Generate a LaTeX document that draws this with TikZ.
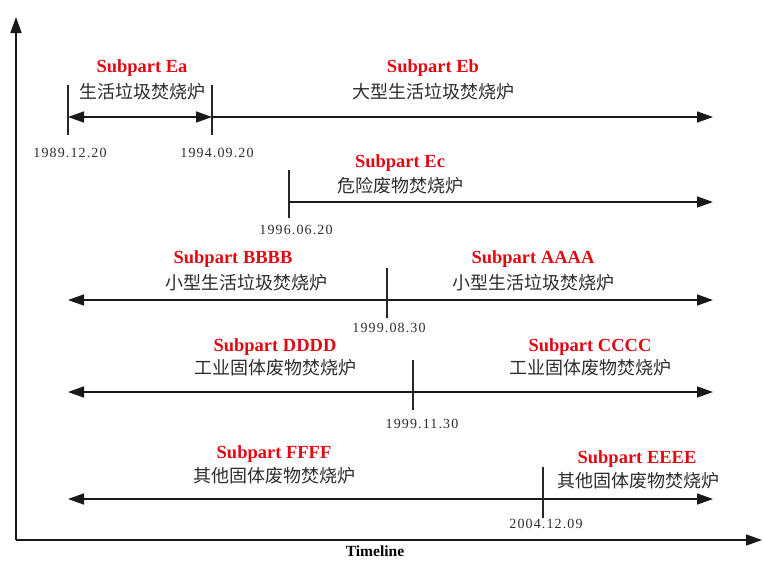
\documentclass[tikz,border=0pt]{standalone}
\usepackage{fontspec}
\setmainfont{Liberation Serif}
\newfontfamily\cjk{Noto Sans CJK SC}
\newfontfamily\datefont[LetterSpace=8]{Liberation Serif}
\usetikzlibrary{arrows.meta}
\definecolor{subred}{RGB}{225,10,20}
\definecolor{txtgray}{RGB}{45,45,45}
\begin{document}
\begin{tikzpicture}[x=1pt,y=-1pt,
  sub/.style={text=subred, font=\bfseries\fontsize{18.5}{18.5}\selectfont, inner sep=0pt},
  cn/.style={text=txtgray, font=\cjk\fontsize{18}{18}\selectfont, inner sep=0pt},
  datelbl/.style={text=txtgray, font=\datefont\fontsize{14}{14}\selectfont, inner sep=0pt},
  tl/.style={line width=1.5pt, draw=black!90},
  tick/.style={line width=1.2pt, draw=black!85},
  arr/.style={tl, -{Triangle[length=16pt,width=11pt]}},
  darr/.style={tl, {Triangle[length=16pt,width=11pt]}-{Triangle[length=16pt,width=11pt]}}]
\useasboundingbox (0,0) rectangle (762,560);
% axes
\coordinate (o) at (16,540);
\coordinate (ytop) at (16,17);
\coordinate (xend) at (762,540);
\draw[arr] (o) -- (ytop);
\draw[arr] (o) -- (xend);
\node[font=\bfseries\fontsize{15.5}{15.5}\selectfont, inner sep=0pt] (tlab) at (375,551) {Timeline};
% row 1
\coordinate (a1t) at (68,85); \coordinate (a1b) at (68,135);
\coordinate (b1t) at (212,85); \coordinate (b1b) at (212,135);
\coordinate (a1) at (68,117); \coordinate (b1) at (212,117); \coordinate (e1) at (713,117);
\draw[tick] (a1t) -- (a1b);
\draw[tick] (b1t) -- (b1b);
\draw[darr] (a1) -- (b1);
\draw[arr] (b1) -- (e1);
\node[sub] (sEa) at (142,68) {Subpart Ea};
\node[cn] (cEa) at (142,92) {生活垃圾焚烧炉};
\node[sub] (sEb) at (433,68) {Subpart Eb};
\node[cn] (cEb) at (433,92) {大型生活垃圾焚烧炉};
\node[datelbl] (d1) at (70,153) {1989.12.20};
\node[datelbl] (d2) at (217,153) {1994.09.20};
% row 2
\coordinate (c2t) at (289,170); \coordinate (c2b) at (289,218);
\coordinate (c2) at (289,202); \coordinate (e2) at (713,202);
\draw[tick] (c2t) -- (c2b);
\draw[arr] (c2) -- (e2);
\node[sub] (sEc) at (400,163) {Subpart Ec};
\node[cn] (cEc) at (400,186) {危险废物焚烧炉};
\node[datelbl] (d3) at (296,230) {1996.06.20};
% row 3
\coordinate (s3) at (68,300); \coordinate (e3) at (713,300);
\coordinate (t3t) at (387,268); \coordinate (t3b) at (387,318);
\draw[darr] (s3) -- (e3);
\draw[tick] (t3t) -- (t3b);
\node[sub] (sB) at (233,259) {Subpart BBBB};
\node[cn] (cB) at (246,283) {小型生活垃圾焚烧炉};
\node[sub] (sA) at (533,259) {Subpart AAAA};
\node[cn] (cA) at (533,283) {小型生活垃圾焚烧炉};
\node[datelbl] (d4) at (389,328) {1999.08.30};
% row 4
\coordinate (s4) at (68,392); \coordinate (e4) at (713,392);
\coordinate (t4t) at (413,360); \coordinate (t4b) at (413,410);
\draw[darr] (s4) -- (e4);
\draw[tick] (t4t) -- (t4b);
\node[sub] (sD) at (275,347) {Subpart DDDD};
\node[cn] (cD) at (275,368) {工业固体废物焚烧炉};
\node[sub] (sC) at (590,347) {Subpart CCCC};
\node[cn] (cC) at (590,368) {工业固体废物焚烧炉};
\node[datelbl] (d5) at (422,424) {1999.11.30};
% row 5
\coordinate (s5) at (68,499); \coordinate (e5) at (713,499);
\coordinate (t5t) at (543,467); \coordinate (t5b) at (543,518);
\draw[darr] (s5) -- (e5);
\draw[tick] (t5t) -- (t5b);
\node[sub] (sF) at (274,454) {Subpart FFFF};
\node[cn] (cF) at (274,476) {其他固体废物焚烧炉};
\node[sub] (sE) at (637,459) {Subpart EEEE};
\node[cn] (cE) at (638,481) {其他固体废物焚烧炉};
\node[datelbl] (d6) at (546,524) {2004.12.09};
\end{tikzpicture}
\end{document}
